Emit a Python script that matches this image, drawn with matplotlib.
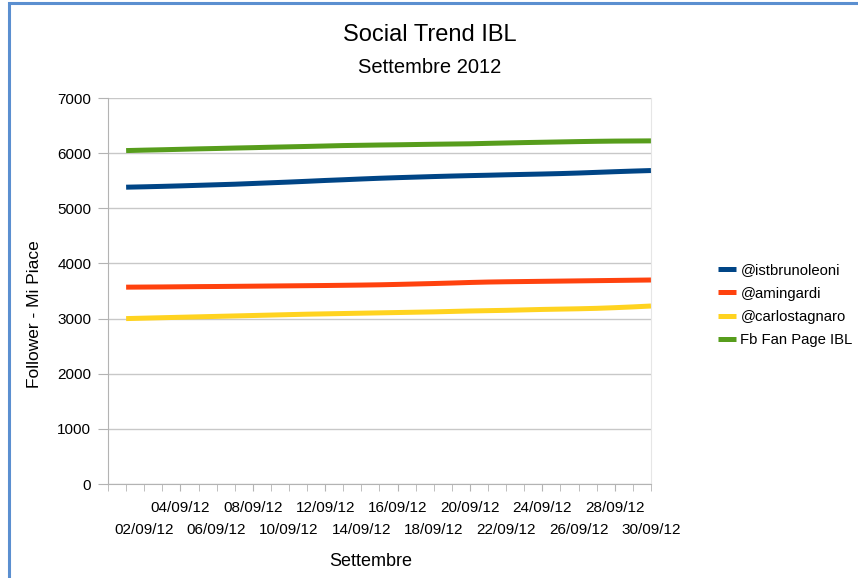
import numpy as np
import matplotlib.pyplot as plt
from matplotlib.patches import Rectangle
from matplotlib.ticker import FixedLocator, FuncFormatter

plt.rcParams['font.family'] = ['Liberation Sans', 'DejaVu Sans']

# days of September 2012
days = list(range(1, 31))
day_labels = ["%02d/09/12" % d for d in days]

istbrunoleoni = [5383, 5390, 5398, 5407, 5417, 5427, 5437, 5450, 5463, 5476,
                 5490, 5505, 5518, 5532, 5545, 5556, 5566, 5576, 5585, 5593,
                 5600, 5608, 5615, 5622, 5630, 5640, 5652, 5664, 5675, 5685]
amingardi = [3570, 3572, 3574, 3577, 3580, 3582, 3585, 3588, 3591, 3594,
             3597, 3600, 3604, 3608, 3613, 3620, 3628, 3636, 3645, 3655,
             3663, 3668, 3672, 3676, 3680, 3684, 3688, 3692, 3696, 3700]
carlostagnaro = [3000, 3008, 3016, 3024, 3032, 3040, 3048, 3056, 3064, 3072,
                 3080, 3086, 3092, 3098, 3104, 3110, 3116, 3122, 3130, 3138,
                 3144, 3150, 3158, 3166, 3172, 3178, 3186, 3198, 3212, 3228]
fb_fan_page = [6047, 6055, 6062, 6070, 6078, 6085, 6093, 6100, 6108, 6115,
               6122, 6130, 6138, 6143, 6148, 6152, 6157, 6162, 6166, 6170,
               6178, 6185, 6192, 6198, 6204, 6210, 6215, 6219, 6221, 6223]

series_names = ["@istbrunoleoni", "@amingardi", "@carlostagnaro", "Fb Fan Page IBL"]
series_colors = ["#004586", "#ff420e", "#ffd320", "#579d1c"]

fig = plt.figure(figsize=(8.58, 5.78), dpi=100)
ax = fig.add_axes([0.1259, 0.1626, 0.6328, 0.6678])

for vals, name, col in zip([istbrunoleoni, amingardi, carlostagnaro, fb_fan_page],
                           series_names, series_colors):
    ax.plot(days, vals, color=col, lw=3.6, label=name, solid_capstyle='butt')

ax.set_xlim(0, 30)
ax.set_ylim(0, 7000)
ax.set_yticks(np.arange(0, 7001, 1000))
ax.yaxis.grid(True, color='#c8c8c8', lw=1)
ax.set_axisbelow(True)

# staggered x labels: upper row (major) 04, 08, ... lower row (minor) 02, 06, ...
upper_days = [d for d in days if d % 4 == 0]
ax.xaxis.set_major_locator(FixedLocator(upper_days))
ax.xaxis.set_major_formatter(FuncFormatter(lambda v, p: day_labels[int(round(v)) - 1]))
ax.xaxis.set_minor_locator(FixedLocator(range(0, 31)))
ax.xaxis.set_minor_formatter(FuncFormatter(
    lambda v, p: day_labels[int(round(v)) - 1] if int(round(v)) % 4 == 2 else ""))
ax.tick_params(axis='x', which='both', direction='out', length=5, color='#b3b3b3', labelsize=11)
ax.tick_params(axis='x', which='major', pad=7)
ax.tick_params(axis='x', which='minor', pad=23)
ax.tick_params(axis='y', direction='out', length=7, color='#b3b3b3', labelsize=11, pad=5)

ax.spines['top'].set_visible(False)
for s in ['left', 'bottom']:
    ax.spines[s].set_color('#b3b3b3')
ax.spines['right'].set_color('#e6e6e6')

ax.set_xlabel("Settembre", fontsize=13)
ax.xaxis.set_label_coords(0.483, -0.178)
ax.set_ylabel("Follower - Mi Piace", fontsize=12.5)
ax.yaxis.set_label_coords(-0.122, 0.44)

fig.text(0.501, 0.939, "Social Trend IBL", fontsize=17, ha='center', va='center')
fig.text(0.501, 0.884, "Settembre 2012", fontsize=14.5, ha='center', va='center')

ax.legend(loc='center left', bbox_to_anchor=(0.830, 0.472), bbox_transform=fig.transFigure,
          frameon=False, fontsize=10.7, handlelength=1.2, handletextpad=0.3,
          labelspacing=0.62, borderaxespad=0)

# blue frame around the picture
fig.patches.append(Rectangle((9 / 858, -0.05), 1.2, 1 - 3 / 578 + 0.05,
                             transform=fig.transFigure, fill=False,
                             edgecolor='#5b8fd0', lw=2.2, zorder=10))

fig.savefig("out.png", dpi=100)
